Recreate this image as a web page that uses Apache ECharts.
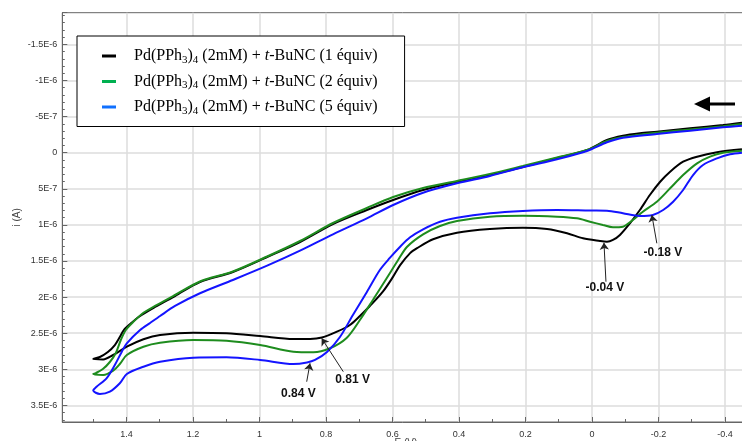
<!DOCTYPE html>
<html><head><meta charset="utf-8">
<script src="https://cdn.jsdelivr.net/npm/echarts@6/dist/echarts.min.js"></script>
<style>html,body{margin:0;padding:0;background:#fff}#c{width:742px;height:441px}</style>
</head><body><div id="c"></div>
<script>
// ---- data (E in V, i in A) ----
const equivalents = ['1', '2', '5'];
const seriesNames = equivalents.map(e => 'Pd(PPh3)4 (2mM) + t-BuNC (' + e + ' équiv)');

const curve1 = [
 [-0.451,-0.416e-6],[-0.394,-0.384e-6],[-0.295,-0.338e-6],[-0.195,-0.291e-6],[-0.144,-0.269e-6],[-0.093,-0.235e-6],[-0.045,-0.176e-6],[0.015,-0.037e-6],[0.105,0.073e-6],[0.208,0.198e-6],[0.307,0.309e-6],[0.406,0.406e-6],[0.508,0.517e-6],[0.598,0.655e-6],[0.677,0.794e-6],[0.779,0.988e-6],[0.878,1.237e-6],[0.977,1.445e-6],[1.080,1.652e-6],[1.179,1.791e-6],[1.254,1.985e-6],[1.314,2.137e-6],[1.359,2.262e-6],[1.389,2.373e-6],[1.408,2.456e-6],[1.420,2.553e-6],[1.435,2.664e-6],[1.456,2.761e-6],[1.480,2.830e-6],[1.500,2.858e-6],
 [1.470,2.864e-6],[1.440,2.802e-6],[1.399,2.687e-6],[1.349,2.584e-6],[1.299,2.525e-6],[1.199,2.493e-6],[1.099,2.501e-6],[0.998,2.539e-6],[0.898,2.580e-6],[0.848,2.580e-6],[0.812,2.560e-6],[0.767,2.479e-6],[0.728,2.386e-6],[0.698,2.262e-6],[0.668,2.124e-6],[0.629,1.925e-6],[0.599,1.724e-6],[0.577,1.558e-6],[0.547,1.391e-6],[0.526,1.322e-6],[0.478,1.199e-6],[0.406,1.108e-6],[0.307,1.057e-6],[0.208,1.039e-6],[0.135,1.057e-6],[0.075,1.116e-6],[0.027,1.186e-6],[-0.024,1.223e-6],[-0.045,1.233e-6],[-0.063,1.209e-6],[-0.084,1.140e-6],[-0.114,0.978e-6],[-0.144,0.794e-6],[-0.174,0.586e-6],[-0.205,0.402e-6],[-0.235,0.263e-6],[-0.274,0.125e-6],[-0.316,0.055e-6],[-0.376,-0.006e-6],[-0.451,-0.047e-6]
];
const curve2 = [
 [-0.451,-0.396e-6],[-0.394,-0.366e-6],[-0.295,-0.321e-6],[-0.195,-0.277e-6],[-0.093,-0.217e-6],[-0.045,-0.162e-6],[0.015,-0.037e-6],[0.105,0.066e-6],[0.208,0.184e-6],[0.307,0.295e-6],[0.406,0.392e-6],[0.508,0.489e-6],[0.598,0.614e-6],[0.677,0.766e-6],[0.779,0.974e-6],[0.878,1.223e-6],[0.977,1.438e-6],[1.080,1.645e-6],[1.179,1.784e-6],[1.254,1.971e-6],[1.314,2.123e-6],[1.350,2.220e-6],[1.380,2.345e-6],[1.402,2.456e-6],[1.417,2.594e-6],[1.432,2.774e-6],[1.450,2.899e-6],[1.471,2.996e-6],[1.492,3.052e-6],[1.500,3.066e-6],
 [1.470,3.079e-6],[1.440,3.019e-6],[1.420,2.927e-6],[1.399,2.802e-6],[1.349,2.687e-6],[1.299,2.632e-6],[1.199,2.594e-6],[1.099,2.604e-6],[0.998,2.663e-6],[0.898,2.756e-6],[0.838,2.765e-6],[0.788,2.709e-6],[0.738,2.566e-6],[0.698,2.317e-6],[0.659,2.040e-6],[0.617,1.735e-6],[0.583,1.486e-6],[0.556,1.302e-6],[0.508,1.130e-6],[0.457,1.015e-6],[0.406,0.946e-6],[0.307,0.886e-6],[0.208,0.873e-6],[0.105,0.886e-6],[0.045,0.909e-6],[0.006,0.956e-6],[-0.033,1.001e-6],[-0.063,1.033e-6],[-0.093,1.025e-6],[-0.123,0.932e-6],[-0.153,0.817e-6],[-0.195,0.679e-6],[-0.235,0.493e-6],[-0.274,0.309e-6],[-0.316,0.147e-6],[-0.355,0.055e-6],[-0.394,0.000e-6],[-0.451,-0.028e-6]
];
const curve5 = [
 [-0.451,-0.374e-6],[-0.394,-0.352e-6],[-0.295,-0.305e-6],[-0.195,-0.259e-6],[-0.093,-0.208e-6],[-0.045,-0.144e-6],[0.015,-0.024e-6],[0.105,0.091e-6],[0.208,0.202e-6],[0.307,0.323e-6],[0.406,0.424e-6],[0.508,0.554e-6],[0.598,0.724e-6],[0.677,0.909e-6],[0.779,1.130e-6],[0.878,1.357e-6],[0.977,1.565e-6],[1.080,1.763e-6],[1.179,1.947e-6],[1.254,2.123e-6],[1.299,2.262e-6],[1.329,2.359e-6],[1.359,2.456e-6],[1.399,2.640e-6],[1.414,2.756e-6],[1.435,2.940e-6],[1.460,3.125e-6],[1.490,3.241e-6],[1.500,3.294e-6],
 [1.480,3.342e-6],[1.450,3.310e-6],[1.420,3.194e-6],[1.399,3.065e-6],[1.349,2.964e-6],[1.299,2.895e-6],[1.199,2.839e-6],[1.099,2.834e-6],[0.998,2.871e-6],[0.898,2.927e-6],[0.857,2.906e-6],[0.833,2.871e-6],[0.797,2.760e-6],[0.758,2.553e-6],[0.719,2.248e-6],[0.677,1.929e-6],[0.638,1.625e-6],[0.608,1.458e-6],[0.577,1.302e-6],[0.547,1.172e-6],[0.508,1.061e-6],[0.457,0.956e-6],[0.406,0.900e-6],[0.307,0.839e-6],[0.208,0.807e-6],[0.105,0.794e-6],[0.006,0.801e-6],[-0.045,0.803e-6],[-0.093,0.839e-6],[-0.144,0.877e-6],[-0.183,0.863e-6],[-0.214,0.794e-6],[-0.244,0.679e-6],[-0.274,0.517e-6],[-0.304,0.309e-6],[-0.334,0.170e-6],[-0.376,0.078e-6],[-0.415,0.022e-6],[-0.451,0.000e-6]
];
const curves = [curve1, curve2, curve5];

// peak annotations: text, label anchor and arrow (data coordinates)
const peakLabels = ['0.84 V', '0.81 V', '-0.04 V', '-0.18 V'];
const peakLabelAt = [[0.883,3.332e-6],[0.720,3.148e-6],[-0.039,1.870e-6],[-0.213,1.385e-6]];
const peakArrowFrom = [[0.858,3.172e-6],[0.748,3.033e-6],[-0.042,1.787e-6],[-0.195,1.255e-6]];
const peakArrowTo = [[0.848,2.917e-6],[0.813,2.571e-6],[-0.036,1.247e-6],[-0.180,0.863e-6]];

// ---- styles ----
const lineColors = ['#000000', '#1e8c1e', '#1414ff'];
const legendColors = ['#000000', '#00b050', '#1070ff'];
const sans = 'Liberation Sans, Arial, sans-serif';
const serif = 'Liberation Serif, Times New Roman, serif';

function sci(v) {
  if (Math.abs(v) < 1e-15) return '0';
  const e = Math.floor(Math.log10(Math.abs(v)) + 1e-9);
  const m = +(v / Math.pow(10, e)).toFixed(2);
  return m + 'E' + e;
}
function legendFmt(name) {
  const m = name.match(/\((\d+) équiv\)/);
  const eq = m ? m[1] : '';
  return '{sp|}{n|Pd(PPh}{s|3}{n|)}{s|4}{n| (2mM) + }{i|t}{n|-BuNC (' + eq + ' équiv)}';
}

const chart = echarts.init(document.getElementById('c'), null, {renderer: 'canvas'});
const axisCol = '#666';
const option = {
  animation: false,
  backgroundColor: '#fff',
  grid: {left: 62.3, top: 12.7, right: -49.5, bottom: 19, show: true, borderColor: axisCol, borderWidth: 1, backgroundColor: 'transparent', outerBoundsMode: 'none', containLabel: false},
  xAxis: {
    type: 'value', inverse: true, min: -0.6, max: 1.593, interval: 0.2,
    name: 'E (V)', nameLocation: 'middle', nameGap: 16, nameMoveOverlap: false,
    nameTextStyle: {fontFamily: sans, fontSize: 10, color: '#444', padding: [0, 42, 0, 0], verticalAlign: 'top'},
    axisLine: {show: true, onZero: false, lineStyle: {color: axisCol, width: 1}},
    axisTick: {show: true, inside: true, length: 5, lineStyle: {color: axisCol}},
    minorTick: {show: true, splitNumber: 2, length: 3, lineStyle: {color: axisCol}},
    axisLabel: {showMaxLabel: false, showMinLabel: false, fontFamily: sans, fontSize: 9, color: '#333', margin: 8},
    splitLine: {show: true, showMinLine: false, showMaxLine: false, lineStyle: {color: '#dcdcdc', width: 1.5}}
  },
  yAxis: {
    type: 'value', inverse: true, min: -1.939e-6, max: 3.73e-6, splitNumber: 10,
    name: 'i (A)', nameLocation: 'middle', nameGap: 40, nameMoveOverlap: false,
    nameTextStyle: {fontFamily: sans, fontSize: 10, color: '#444'},
    axisLine: {show: true, onZero: false, lineStyle: {color: axisCol, width: 1}},
    axisTick: {show: true, inside: true, length: 5, lineStyle: {color: axisCol}},
    minorTick: {show: true, splitNumber: 5, length: 2.5, lineStyle: {color: axisCol}},
    axisLabel: {showMaxLabel: false, showMinLabel: false, formatter: sci, fontFamily: sans, fontSize: 9, color: '#333', margin: 5},
    splitLine: {show: true, showMinLine: false, showMaxLine: false, lineStyle: {color: '#dcdcdc', width: 1.5}}
  },
  legend: {
    orient: 'vertical', left: 77, top: 36,
    padding: [12, 27, 10, 25], itemGap: 8, itemWidth: 14, itemHeight: 3, icon: 'rect',
    backgroundColor: '#fff', borderColor: '#000', borderWidth: 1, borderRadius: 0,
    selectedMode: false,
    data: seriesNames.map((n, i) => ({name: n, itemStyle: {color: legendColors[i]}})),
    formatter: legendFmt,
    textStyle: {
      fontFamily: serif, fontSize: 16, color: '#000',
      rich: {
        sp: {width: 13},
        n: {fontFamily: serif, fontSize: 16, color: '#000', lineHeight: 19},
        s: {fontFamily: serif, fontSize: 11, color: '#000', lineHeight: 11, verticalAlign: 'bottom'},
        i: {fontFamily: serif, fontSize: 16, color: '#000', fontStyle: 'italic', lineHeight: 19}
      }
    }
  },
  graphic: [{
    type: 'group', left: 694, top: 96.5, silent: true, z: 100,
    children: [
      {type: 'polygon', z: 100, shape: {points: [[0, 7.5], [16, 0], [16, 15]]}, style: {fill: '#000'}},
      {type: 'rect', z: 100, shape: {x: 14, y: 6, width: 27, height: 3}, style: {fill: '#000'}}
    ]
  }],
  series: curves.map((d, i) => ({
    name: seriesNames[i], type: 'line', data: d, showSymbol: false, symbol: 'none',
    smooth: 0.3,
    lineStyle: {color: lineColors[i], width: 2},
    itemStyle: {color: lineColors[i]},
    emphasis: {disabled: true}
  })).concat([{
    name: 'annotations', type: 'line', data: [], silent: true, z: 5,
    markLine: {
      silent: true, symbol: ['none', 'arrow'], symbolSize: 7, animation: false,
      lineStyle: {color: '#222', width: 1, type: 'solid'},
      label: {show: false}, emphasis: {disabled: true},
      data: peakArrowFrom.map((f, i) => [{coord: f}, {coord: peakArrowTo[i]}])
    },
    markPoint: {
      silent: true, symbol: 'circle', symbolSize: 0, animation: false,
      itemStyle: {color: 'transparent'},
      label: {show: true, position: 'inside', formatter: '{b}', fontFamily: sans, fontSize: 12, fontWeight: 'bold', color: '#111'},
      data: peakLabels.map((t, i) => ({name: t, coord: peakLabelAt[i]}))
    }
  }])
};
chart.setOption(option);
</script>
</body></html>
